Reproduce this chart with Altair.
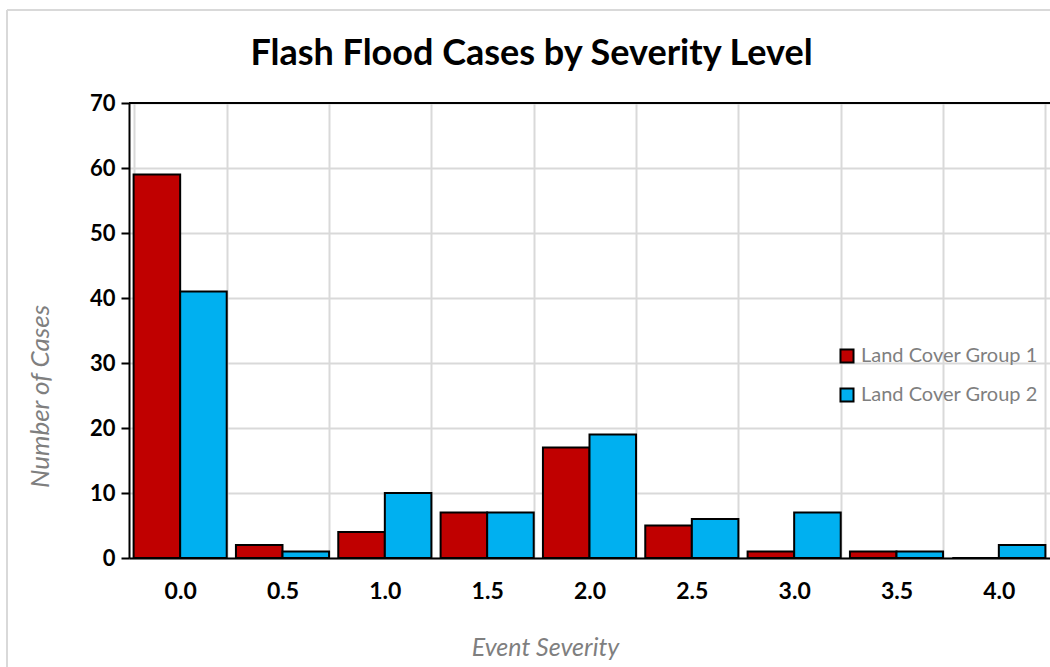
import altair as alt
import pandas as pd

severity = ["0.0", "0.5", "1.0", "1.5", "2.0", "2.5", "3.0", "3.5", "4.0"]
group1 = [59, 2, 4, 7, 17, 5, 1, 1, 0]
group2 = [41, 1, 10, 7, 19, 6, 7, 1, 2]
series = ["Land Cover Group 1", "Land Cover Group 2"]
colors = ["#C00000", "#00B0F0"]

rows = []
for s, a, b in zip(severity, group1, group2):
    rows.append({"Severity": s, "Group": series[0], "Cases": a})
    rows.append({"Severity": s, "Group": series[1], "Cases": b})
df = pd.DataFrame(rows)

FONT = "Lato"

bars = alt.Chart(df).mark_bar(stroke="black", strokeWidth=2).encode(
    x=alt.X("Severity:N", sort=severity,
            scale=alt.Scale(paddingInner=0.09, paddingOuter=0.045),
            axis=alt.Axis(title="Event Severity", labelAngle=0, labelFontSize=23,
                          labelFontWeight="bold", labelColor="black", labelPadding=22,
                          ticks=False, domainColor="black", domainWidth=2,
                          grid=True, gridColor="#d9d9d9", gridWidth=2, tickBand="extent",
                          titleFontSize=25, titleFontStyle="italic", titleFontWeight="normal",
                          titleColor="#7f7f7f", titleX=416, titleY=89, titleBaseline="middle")),
    xOffset=alt.XOffset("Group:N", sort=series),
    y=alt.Y("Cases:Q", scale=alt.Scale(domain=[0, 70], nice=False),
            axis=alt.Axis(title="Number of Cases", values=[0, 10, 20, 30, 40, 50, 60, 70],
                          labelFontSize=22, labelFontWeight="bold", labelColor="black",
                          labelPadding=6, tickSize=8, tickWidth=2, tickColor="black",
                          domainColor="black", domainWidth=2,
                          grid=True, gridColor="#d9d9d9", gridWidth=2,
                          titleFontSize=26, titleFontStyle="italic", titleFontWeight="normal",
                          titleColor="#7f7f7f", titleX=-89, titleY=293, titleAngle=270,
                          titleBaseline="middle", titleAlign="center")),
    color=alt.Color("Group:N", sort=series, scale=alt.Scale(domain=series, range=colors),
                    legend=alt.Legend(title=None, orient="none", legendX=708, legendY=243,
                                      symbolType="square", symbolSize=170,
                                      symbolStrokeColor="black", symbolStrokeWidth=2,
                                      labelFontSize=20, labelColor="#7f7f7f", labelLimit=400,
                                      rowPadding=17, labelOffset=4)),
)

top_line = alt.Chart(pd.DataFrame({"v": [70]})).mark_rule(color="black", strokeWidth=2).encode(
    y=alt.Y("v:Q")
)

border_left = alt.Chart(pd.DataFrame({"v": [0]})).mark_rule(color="#d9d9d9", strokeWidth=2).encode(
    x=alt.value(-122), y=alt.value(-93), y2=alt.value(570)
)
border_top = alt.Chart(pd.DataFrame({"v": [0]})).mark_rule(color="#d9d9d9", strokeWidth=2).encode(
    x=alt.value(-122), x2=alt.value(930), y=alt.value(-93)
)

chart = alt.layer(bars, top_line, border_left, border_top).properties(
    width=921, height=455,
    title=alt.TitleParams("Flash Flood Cases by Severity Level", fontSize=36, fontWeight="bold",
                          color="black", font=FONT, anchor="middle", dx=-58, offset=0, dy=100,
                          baseline="bottom"),
    padding={"left": 129, "top": 103, "right": 0, "bottom": 109},
    autosize=alt.AutoSizeParams(type="none"),
).configure(font=FONT).configure_view(stroke=None)

chart.save("out.html", embed_options={"renderer": "svg", "actions": False})
